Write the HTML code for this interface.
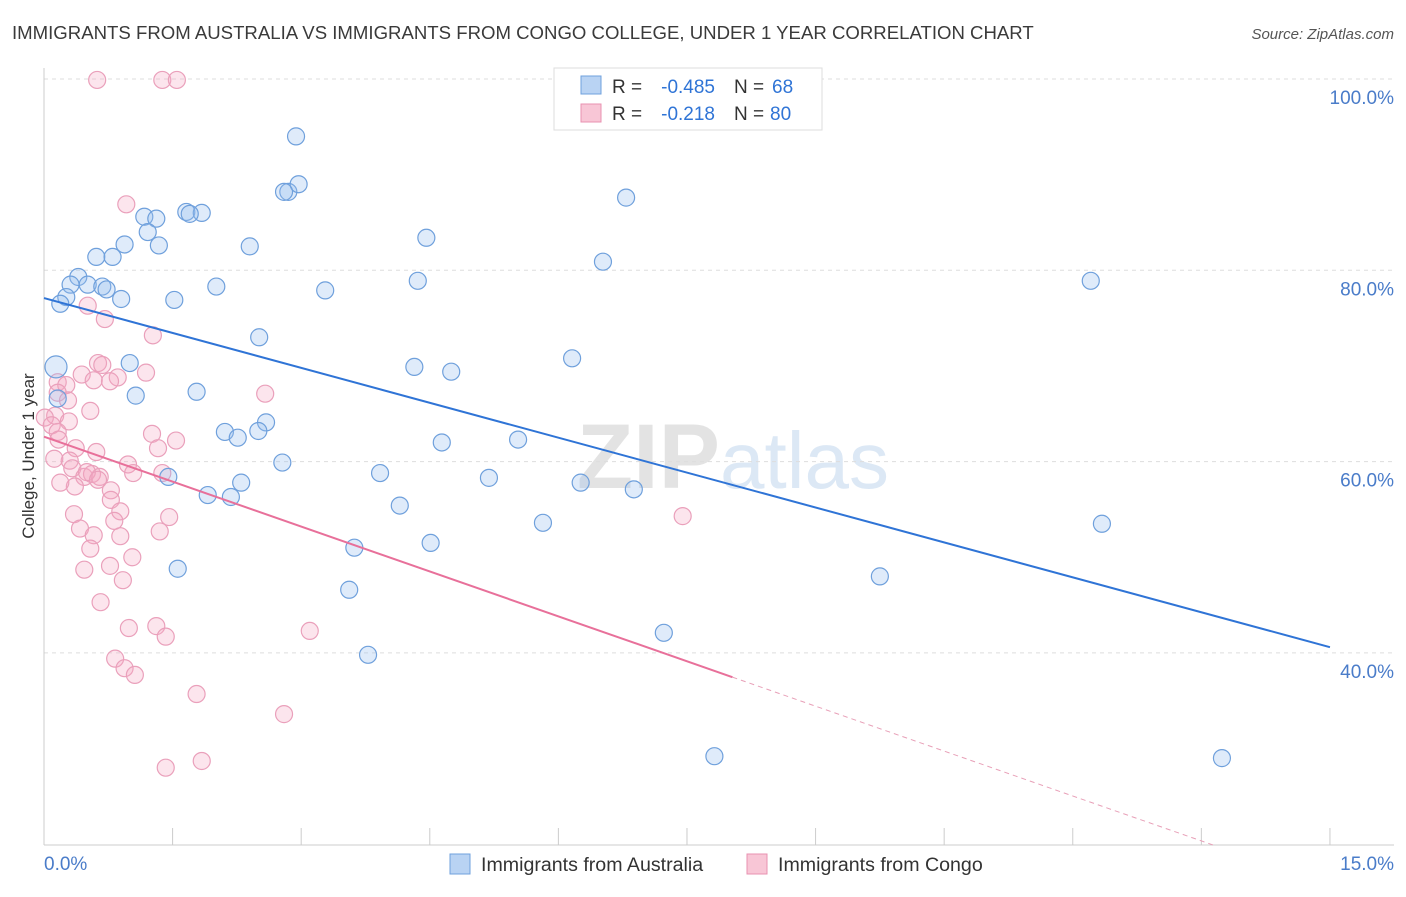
<!DOCTYPE html>
<html><head><meta charset="utf-8"><style>
body{margin:0;background:#fff;font-family:"Liberation Sans",sans-serif;}
svg text{font-family:"Liberation Sans",sans-serif;}
</style></head><body>
<svg id="chart" width="1406" height="892" xmlns="http://www.w3.org/2000/svg">
<text x="12" y="39" font-size="18.6" fill="#3a3a3a">IMMIGRANTS FROM AUSTRALIA VS IMMIGRANTS FROM CONGO COLLEGE, UNDER 1 YEAR CORRELATION CHART</text>
<text x="1394" y="39" font-size="15" fill="#555" text-anchor="end" font-style="italic">Source: ZipAtlas.com</text>
<text x="720" y="488" font-size="92" fill="#e3e3e3" text-anchor="end" font-family="Liberation Serif" font-weight="bold">ZIP</text>
<text x="720" y="488" font-size="80" fill="#dce8f5">atlas</text>
<g id="grid"></g>
<g id="axes"></g>
<g id="marks"></g>
<text transform="translate(34,456) rotate(-90)" font-size="17" fill="#333" text-anchor="middle">College, Under 1 year</text>
<g>
<rect x="554" y="68" width="268" height="62" fill="#fff" stroke="#ddd"/>
<rect x="581" y="76" width="20" height="18" fill="#b9d3f3" stroke="#6fa0dc"/>
<rect x="581" y="104" width="20" height="18" fill="#f8c6d6" stroke="#e891b0"/>
<text x="612" y="93" font-size="19" fill="#333">R =</text>
<text x="715" y="93" font-size="19" fill="#2f74d6" text-anchor="end">-0.485</text>
<text x="734" y="93" font-size="19" fill="#333">N =</text>
<text x="772" y="93" font-size="19" fill="#2f74d6">68</text>
<text x="612" y="120" font-size="19" fill="#333">R =</text>
<text x="715" y="120" font-size="19" fill="#2f74d6" text-anchor="end">-0.218</text>
<text x="734" y="120" font-size="19" fill="#333">N =</text>
<text x="770" y="120" font-size="19" fill="#2f74d6">80</text>
</g>
<g>
<rect x="450" y="854" width="20" height="20" fill="#b9d3f3" stroke="#6fa0dc"/>
<text x="481" y="871" font-size="19.6" fill="#333">Immigrants from Australia</text>
<rect x="747" y="854" width="20" height="20" fill="#f8c6d6" stroke="#e891b0"/>
<text x="778" y="871" font-size="19.6" fill="#333">Immigrants from Congo</text>
</g>
</svg>
<script>
const blueX=[2.94,2.85,2.97,2.80,6.79,1.66,1.84,1.17,1.31,1.70,1.21,1.34,0.94,2.40,4.46,0.61,0.80,6.52,0.40,0.31,0.51,0.68,0.73,2.01,3.28,4.36,12.21,0.26,0.90,0.19,1.52,2.51,6.16,0.14,1.00,4.32,4.75,1.07,1.78,0.16,2.59,2.11,2.50,2.26,4.64,5.53,2.78,1.45,3.92,5.19,2.30,1.91,2.18,6.26,6.88,4.15,5.82,12.34,3.62,4.51,1.56,9.75,3.56,7.23,3.78,7.82,13.74];
const blueY=[94.0,88.2,89.0,88.2,87.6,86.1,86.0,85.6,85.4,85.9,84.0,82.6,82.7,82.5,83.4,81.4,81.4,80.9,79.3,78.5,78.5,78.3,78.0,78.3,77.9,78.9,78.9,77.2,77.0,76.5,76.9,73.0,70.8,69.9,70.3,69.9,69.4,66.9,67.3,66.6,64.1,63.1,63.2,62.5,62.0,62.3,59.9,58.4,58.8,58.3,57.8,56.5,56.3,57.8,57.1,55.4,53.6,53.5,51.0,51.5,48.8,48.0,46.6,42.1,39.8,29.2,29.0];
const pinkX=[0.62,1.38,1.55,0.96,0.51,0.71,1.27,0.63,0.68,1.19,0.44,0.58,0.86,0.77,0.16,2.58,0.26,0.16,0.28,0.54,0.13,0.01,0.29,0.09,0.16,1.26,1.54,1.33,0.37,0.61,0.17,0.30,0.98,1.04,0.12,0.33,0.47,0.56,0.65,0.50,0.63,0.36,0.19,0.78,1.38,0.78,0.89,0.35,0.82,1.46,0.42,0.89,0.58,1.35,0.54,1.03,0.47,0.77,0.92,0.66,0.99,1.31,1.42,3.10,0.83,0.94,1.06,1.78,2.80,1.42,1.84,7.45];
const pinkY=[99.9,99.9,99.9,86.9,76.3,74.9,73.2,70.3,70.1,69.3,69.1,68.5,68.8,68.4,68.3,67.1,68.0,67.2,66.4,65.3,64.8,64.6,64.2,63.8,63.1,62.9,62.2,61.4,61.4,61.0,62.3,60.1,59.7,58.8,60.3,59.3,58.4,58.7,58.4,58.9,58.1,57.4,57.8,57.0,58.8,56.0,54.8,54.5,53.8,54.2,53.0,52.2,52.3,52.7,50.9,50.0,48.7,49.1,47.6,45.3,42.6,42.8,41.7,42.3,39.4,38.4,37.7,35.7,33.6,28.0,28.7,54.3];
const blueTrend=[77.1,40.6];
const pinkTrend=[62.6,-3.13];
const pinkSolidEnd=8.03;
const yTicks=[100,80,60,40];
const yTickLabels=["100.0%","80.0%","60.0%","40.0%"];
const xTicks=[0,1.5,3,4.5,6,7.5,9,10.5,12,13.5,15];

const NS="http://www.w3.org/2000/svg";
const X=v=>44+v*85.73, Y=v=>79+(100-v)*9.565;
function mk(tag,a,p){const e=document.createElementNS(NS,tag);for(const k in a)e.setAttribute(k,a[k]);p.appendChild(e);return e;}
const grid=document.getElementById('grid'),axes=document.getElementById('axes'),marks=document.getElementById('marks');
yTicks.forEach((t,i)=>{
 const l=mk('line',{x1:44,x2:1394,y1:Y(t),y2:Y(t),stroke:'#ddd','stroke-dasharray':'4,4'},grid);
 
 
 const tx=mk('text',{x:1394,y:Y(t)+25,'font-size':19,fill:'#4a7cc9','text-anchor':'end'},axes);
 tx.textContent=yTickLabels[i];
 
 
});
let a=mk('line',{x1:44,x2:44,y1:68,y2:845,stroke:'#ccc'},axes);

a=mk('line',{x1:44,x2:1394,y1:845,y2:845,stroke:'#ccc'},axes);

xTicks.forEach(t=>{const l=mk('line',{x1:X(t),x2:X(t),y1:828,y2:845,stroke:'#ccc'},axes);
 
 });
let tl=mk('text',{x:44,y:870,'font-size':19,fill:'#4a7cc9'},axes);tl.textContent='0.0%';

tl=mk('text',{x:1394,y:870,'font-size':19,fill:'#4a7cc9','text-anchor':'end'},axes);tl.textContent='15.0%';

pinkX.forEach((x,i)=>{const c=mk('circle',{cx:X(x),cy:Y(pinkY[i]),r:8.5,fill:'rgba(245,170,195,0.3)',stroke:'#eaa0bb','stroke-width':1.2},marks);
 
 });
blueX.forEach((x,i)=>{const c=mk('circle',{cx:X(x),cy:Y(blueY[i]),r:i==33?11:8.5,fill:'rgba(150,190,240,0.3)',stroke:'#6fa0dc','stroke-width':1.2},marks);
 
 });
let tr=mk('line',{x1:X(0),y1:Y(blueTrend[0]),x2:X(15),y2:Y(blueTrend[1]),stroke:'#2f74d6','stroke-width':2},marks);

const py=x=>pinkTrend[0]+pinkTrend[1]*x;
tr=mk('line',{x1:X(0),y1:Y(py(0)),x2:X(pinkSolidEnd),y2:Y(py(pinkSolidEnd)),stroke:'#e8709a','stroke-width':2},marks);

const xEnd=Math.min(15,(pinkTrend[0]-(100-(845-79)/9.565))/-pinkTrend[1]);
tr=mk('line',{x1:X(pinkSolidEnd),y1:Y(py(pinkSolidEnd)),x2:X(xEnd),y2:Y(py(xEnd)),stroke:'#e8a0b8','stroke-width':1,'stroke-dasharray':'5,4'},marks);

</script>
</body></html>
